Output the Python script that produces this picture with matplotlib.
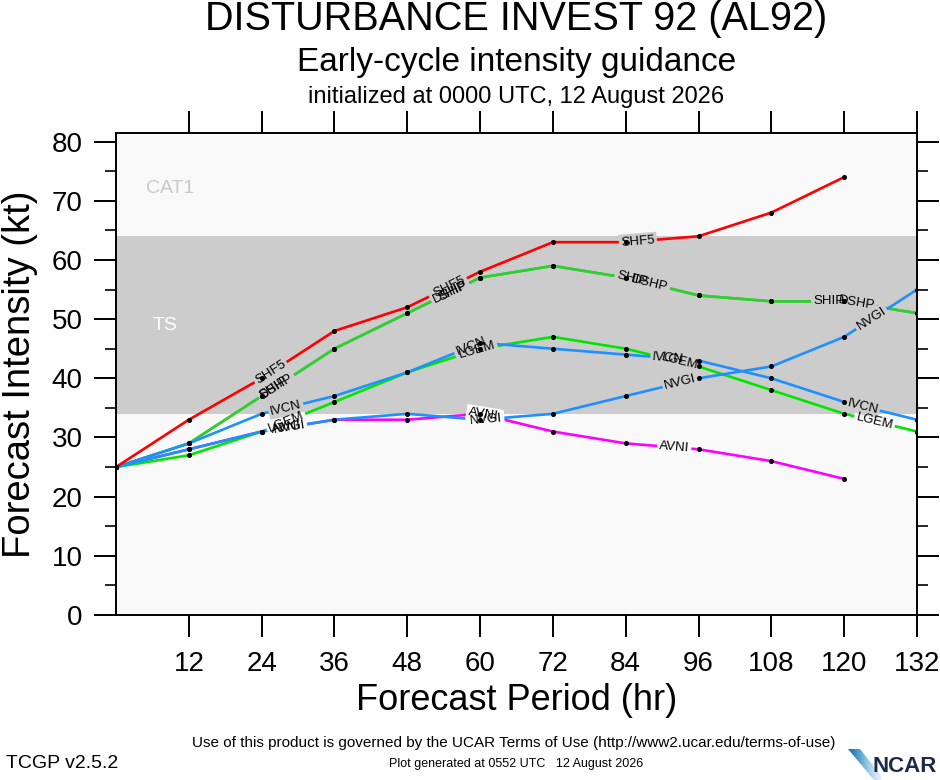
import numpy as np
import matplotlib
matplotlib.use("Agg")
import matplotlib.pyplot as plt
from matplotlib.patches import Polygon

plt.rcParams['font.family'] = ['Liberation Sans', 'DejaVu Sans']

# forecast hours and model intensities (kt)
hours = [0, 12, 24, 36, 48, 60, 72, 84, 96, 108, 120, 132]
shf5 = [25, 33, 40, 48, 52, 58, 63, 63, 64, 68, 74]
ship = [25, 29, 37, 45, 51, 57, 59, 57, 54, 53, 53, 51]
dshp = [25, 29, 37, 45, 51, 57, 59, 57, 54, 53, 53, 51]
lgem = [25, 27, 31, 36, 41, 45, 47, 45, 42, 38, 34, 31]
ivcn = [25, 29, 34, 37, 41, 46, 45, 44, 43, 40, 36, 33]
nvgi = [25, 28, 31, 33, 34, 33, 34, 37, 40, 42, 47, 55]
avni = [25, 28, 31, 33, 33, 34, 31, 29, 28, 26, 23]

xticks = [12, 24, 36, 48, 60, 72, 84, 96, 108, 120, 132]

# name, values, colour, hours where the name is written on the line
models = [
    ("AVNI", avni, "#ff00ff", [28, 60.5, 92]),
    ("SHIP", ship, "#33cc33", [26, 55.5, 85, 117.5]),
    ("DSHP", dshp, "#33cc33", [26.5, 55, 88, 122]),
    ("LGEM", lgem, "#00e600", [28, 59.5, 93, 125]),
    ("IVCN", ivcn, "#1e90ff", [28, 58.5, 91, 123]),
    ("NVGI", nvgi, "#1e90ff", [28.5, 61, 93, 124.5]),
    ("SHF5", shf5, "#ff0000", [25.5, 55, 86]),
]

fig = plt.figure(figsize=(9.4, 7.8), dpi=100)
ax = fig.add_axes([116 / 940, 1 - 615 / 780, 801 / 940, (615 - 133.3) / 780])
ax.set_xlim(0, 132)
ax.set_ylim(0, 81.4)
ax.set_facecolor("#f9f9f9")

# TS band
ax.axhspan(34, 64, color="#cccccc", zorder=0, lw=0)
ax.text(5, 72, "CAT1", color="#c8c8c8", fontsize=14, va="center")
ax.text(6, 49, "TS", color="white", fontsize=14, va="center")

for name, vals, col, lab_h in models:
    hh = hours[:len(vals)]
    ax.plot(hh, vals, color=col, lw=1.9, zorder=2)
    ax.plot(hh, vals, "o", color="black", ms=2.6, zorder=5)

# names written along the lines, line broken underneath
for name, vals, col, lab_h in models:
    hh = hours[:len(vals)]
    for h in lab_h:
        y = np.interp(h, hh, vals)
        p1 = ax.transData.transform((h - 1, np.interp(h - 1, hh, vals)))
        p2 = ax.transData.transform((h + 1, np.interp(h + 1, hh, vals)))
        ang = np.degrees(np.arctan2(p2[1] - p1[1], p2[0] - p1[0]))
        bg = "#cccccc" if 34 <= y <= 64 else "#f9f9f9"
        ax.text(h, y, name, fontsize=9.5, color=bg, rotation=ang,
                rotation_mode="anchor", ha="center", va="center", zorder=3,
                bbox=dict(boxstyle="square,pad=0.15", fc=bg, ec="none"))
        ax.text(h, y, name, fontsize=9.5, color="black", rotation=ang,
                rotation_mode="anchor", ha="center", va="center", zorder=4)

ax.set_xticks(xticks)
ax.set_xticklabels([str(t) for t in xticks])
ax.set_yticks(range(0, 81, 10))
ax.set_yticks(range(5, 81, 10), minor=True)
ax.tick_params(axis="both", which="major", direction="out", length=16, width=1.4,
               labelsize=20, top=True, right=True, pad=8)
ax.tick_params(axis="y", which="minor", direction="out", length=8, width=1.2,
               right=True)
ax.tick_params(axis="x", which="major", pad=10)
for s in ax.spines.values():
    s.set_linewidth(1.4)

ax.set_xlabel("Forecast Period (hr)", fontsize=26, labelpad=4)
ax.set_ylabel("Forecast Intensity (kt)", fontsize=27.5)
ax.yaxis.set_label_coords(-0.097, 0.5)

cx = (116 + 917) / 2 / 940
fig.text(cx, 1 - 19 / 780, "DISTURBANCE INVEST 92 (AL92)", fontsize=28.5,
         ha="center", va="center")
fig.text(cx, 1 - 63 / 780, "Early-cycle intensity guidance", fontsize=24,
         ha="center", va="center")
fig.text(cx, 1 - 97 / 780, "initialized at 0000 UTC, 12 August 2026",
         fontsize=17, ha="center", va="center")

fig.text(514 / 940, 1 - 743 / 780,
         "Use of this product is governed by the UCAR Terms of Use (http://www2.ucar.edu/terms-of-use)",
         fontsize=11, ha="center", va="center")
fig.text(516 / 940, 1 - 764 / 780, "Plot generated at 0552 UTC   12 August 2026",
         fontsize=9, ha="center", va="center")
fig.text(6 / 940, 1 - 763 / 780, "TCGP v2.5.2", fontsize=14, ha="left", va="center")

# rough NCAR logo
lax = fig.add_axes([846 / 940, 0, 94 / 940, 34 / 780])
lax.set_xlim(0, 94)
lax.set_ylim(0, 34)
lax.axis("off")
grad = np.linspace(0, 1, 100).reshape(1, -1)
im = lax.imshow(grad, extent=[0, 36, 0, 34], cmap="Blues_r", vmin=-0.2, vmax=1.1,
                aspect="auto")
sw = Polygon([[2, 31], [14, 31], [34, 6], [36, 0], [28, 0]], closed=True,
             transform=lax.transData)
im.set_clip_path(sw)
lax.text(27, 13, "NCAR", fontsize=16, fontweight="bold", color="#1c2a4a",
         ha="left", va="center")

fig.savefig("out.png", dpi=100)
